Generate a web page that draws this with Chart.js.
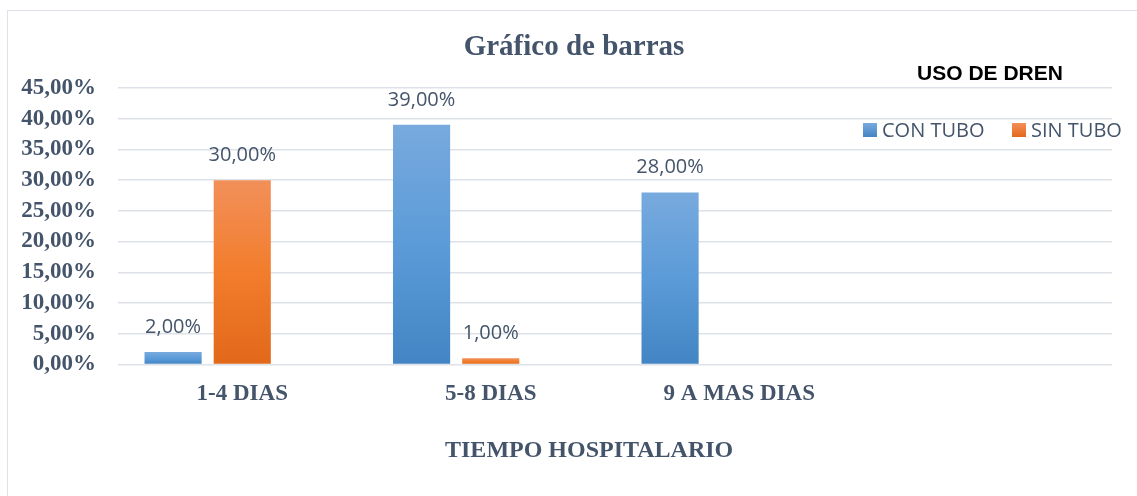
<!DOCTYPE html>
<html lang="es">
<head>
    <meta charset="UTF-8">
    <title>Gráfico de barras</title>
    <script src="https://cdn.jsdelivr.net/npm/chart.js"></script>
    <style>
        html, body { margin: 0; padding: 0; background: #fff; overflow: hidden; }
        #wrap { position: relative; width: 1137px; height: 496px; }
        #frame { position: absolute; left: 7px; top: 10px; width: 1150px; height: 510px; border: 1.5px solid #dde2ea; box-sizing: border-box; }
        canvas { position: absolute; left: 0; top: 0; }
    </style>
</head>
<body>
    <div id="wrap">
        <div id="frame"></div>
        <canvas id="chart" width="1137" height="496"></canvas>
    </div>

    <script>
        // datos
        const categories = ['1-4 DIAS', '5-8 DIAS', '9 A MAS DIAS', ''];
        const conTubo = [2, 39, 28, null];
        const sinTubo = [30, 1, null, null];
        const serie3 = [null, null, null, null];
        const seriesNames = ['CON TUBO', 'SIN TUBO', ''];
        const yMin = 0, yMax = 45, yStep = 5;

        const textColor = '#44546a';
        const blueStops = ['#78aade', '#5b9bd8', '#4384c4'];
        const orangeStops = ['#f2905a', '#f27d2c', '#e2681a'];

        const fmt = v => v.toFixed(2).replace('.', ',') + '%';

        function barGradient(stops) {
            return ctx => {
                const chart = ctx.chart;
                if (!chart.chartArea || ctx.type !== 'data' || ctx.raw == null) return stops[1];
                const y = chart.scales.y;
                const top = y.getPixelForValue(ctx.raw);
                const bottom = y.getPixelForValue(0);
                const g = chart.ctx.createLinearGradient(0, top, 0, bottom + 0.01);
                g.addColorStop(0, stops[0]);
                g.addColorStop(0.5, stops[1]);
                g.addColorStop(1, stops[2]);
                return g;
            };
        }

        // etiquetas, titulo y leyenda
        const extras = {
            id: 'extras',
            afterDatasetsDraw(chart) {
                const c = chart.ctx;
                const area = chart.chartArea;
                c.save();

                // etiquetas de datos
                c.font = '20px "Open Sans"';
                c.fillStyle = textColor;
                c.textAlign = 'center';
                c.textBaseline = 'middle';
                chart.data.datasets.forEach((ds, i) => {
                    const meta = chart.getDatasetMeta(i);
                    meta.data.forEach((bar, j) => {
                        const v = ds.data[j];
                        if (v == null) return;
                        c.fillText(fmt(v), bar.x, bar.y - 25);
                    });
                });

                // titulo
                c.font = 'bold 29px "Liberation Serif"';
                c.fillText('Gráfico de barras', 574, 48);

                // titulo eje x
                c.font = 'bold 24px "Liberation Serif"';
                c.fillText('TIEMPO HOSPITALARIO', area.left + area.width * 0.474, 451);

                // leyenda
                c.font = 'bold 21px "Liberation Sans"';
                c.fillStyle = '#000';
                c.fillText('USO DE DREN', 990, 74);

                c.font = '20px "Open Sans"';
                c.textAlign = 'left';
                const legendX = [863, 1012];
                [blueStops, orangeStops].forEach((stops, i) => {
                    const x = legendX[i];
                    const g = c.createLinearGradient(0, 123, 0, 137);
                    g.addColorStop(0, stops[0]);
                    g.addColorStop(1, stops[2]);
                    c.fillStyle = g;
                    c.fillRect(x, 123, 14, 14);
                    c.fillStyle = textColor;
                    c.fillText(chart.data.datasets[i].label, x + 19, 131);
                });
                c.restore();
            }
        };

        new Chart(document.getElementById('chart'), {
            type: 'bar',
            data: {
                labels: categories,
                datasets: [
                    { label: seriesNames[0], data: conTubo, backgroundColor: barGradient(blueStops) },
                    { label: seriesNames[1], data: sinTubo, backgroundColor: barGradient(orangeStops) },
                    { label: seriesNames[2], data: serie3, backgroundColor: '#a5a5a5' }
                ]
            },
            options: {
                responsive: false,
                animation: false,
                events: [],
                categoryPercentage: 0.835,
                barPercentage: 0.826,
                layout: { padding: { left: 18, right: 25, top: 88, bottom: 80 } },
                plugins: {
                    legend: { display: false },
                    title: { display: false },
                    tooltip: { enabled: false }
                },
                scales: {
                    x: {
                        grid: { display: false },
                        border: { display: false },
                        ticks: {
                            color: textColor,
                            font: { family: '"Liberation Serif"', size: 23, weight: 'bold' },
                            padding: 8,
                            maxRotation: 0,
                            autoSkip: false
                        }
                    },
                    y: {
                        min: yMin,
                        max: yMax,
                        grid: { color: '#dde1e8', lineWidth: 1.5, drawTicks: false },
                        border: { display: false },
                        afterFit: scale => { scale.width = 100; },
                        ticks: {
                            stepSize: yStep,
                            autoSkip: false,
                            color: textColor,
                            font: { family: '"Liberation Serif"', size: 23, weight: 'bold', lineHeight: 1 },
                            padding: 22,
                            callback: v => fmt(v)
                        }
                    }
                }
            },
            plugins: [extras]
        });
    </script>
</body>
</html>
